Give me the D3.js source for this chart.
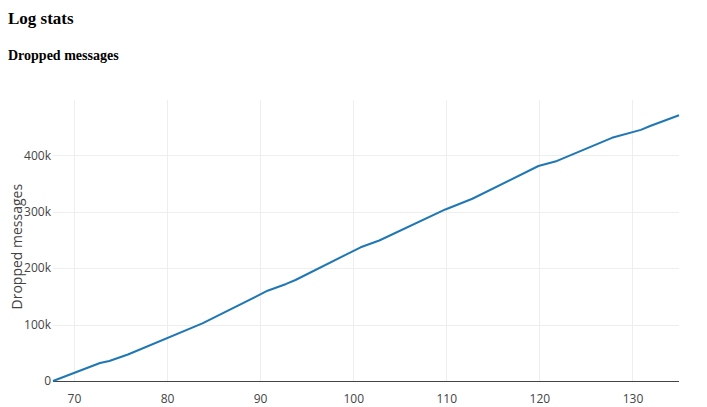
<!DOCTYPE html>
<html>
<head>
<meta charset="utf-8">
<script src="https://cdn.jsdelivr.net/npm/d3@7"></script>
<style>
  html, body { margin: 0; padding: 0; background: #fff; }
  svg { display: block; }
</style>
</head>
<body>
<svg id="chart" width="707" height="407"></svg>
<script>
// ---- data ----
const pageTitle = "Log stats";
const chartTitle = "Dropped messages";
const yAxisTitle = "Dropped messages";
const xValues = [67.75, 72.8, 73.8, 75.8, 83.8, 90.8, 92.8, 93.8, 100.8, 102.8, 109.9, 112.8, 119.9, 121.9, 127.8, 130.9, 131.9, 135];
const droppedValues = [0, 32000, 35500, 47000, 102000, 160000, 172000, 179000, 237000, 249000, 304000, 323000, 381000, 390000, 431000, 445000, 452000, 471000];
const xTicks = [70, 80, 90, 100, 110, 120, 130];
const yTicks = [0, 100000, 200000, 300000, 400000];
const yTickLabels = ["0", "100k", "200k", "300k", "400k"];

// ---- layout ----
const plot = { left: 53, right: 679, top: 100, bottom: 381 };
const svg = d3.select("#chart");
const axisFont = "'Open Sans', verdana, arial, sans-serif";

const x = d3.scaleLinear().domain([67.75, 135]).range([plot.left, plot.right]);
const y = d3.scaleLinear().domain([0, 498000]).range([plot.bottom, plot.top]);

// titles
svg.append("text").attr("x", 8).attr("y", 23.5)
  .attr("font-family", "'Liberation Serif', 'Times New Roman', serif")
  .attr("font-weight", "bold").attr("font-size", 17).attr("fill", "#000")
  .text(pageTitle);
svg.append("text").attr("x", 8).attr("y", 59.5)
  .attr("font-family", "'Liberation Serif', 'Times New Roman', serif")
  .attr("font-weight", "bold").attr("font-size", 14).attr("fill", "#000")
  .text(chartTitle);

// gridlines
const grid = svg.append("g");
grid.selectAll("line.vx").data(xTicks).join("line")
  .attr("x1", d => Math.round(x(d)) + 0.5).attr("x2", d => Math.round(x(d)) + 0.5)
  .attr("y1", plot.top).attr("y2", plot.bottom)
  .attr("stroke", "#eee").attr("stroke-width", 1);
grid.selectAll("line.hy").data(yTicks.filter(d => d !== 0)).join("line")
  .attr("x1", plot.left).attr("x2", plot.right)
  .attr("y1", d => Math.round(y(d)) + 0.5).attr("y2", d => Math.round(y(d)) + 0.5)
  .attr("stroke", "#eee").attr("stroke-width", 1);

// zero line
svg.append("line")
  .attr("x1", plot.left).attr("x2", plot.right)
  .attr("y1", Math.round(y(0)) + 0.5).attr("y2", Math.round(y(0)) + 0.5)
  .attr("stroke", "#444").attr("stroke-width", 1);

// x axis
const xAxis = d3.axisBottom(x).tickValues(xTicks).tickSize(0).tickPadding(0).tickFormat(d3.format("d"));
const gx = svg.append("g").attr("transform", `translate(0,${plot.bottom})`).call(xAxis);
gx.select(".domain").remove();
gx.selectAll("text").attr("font-family", axisFont).attr("font-size", 12).attr("fill", "#444")
  .attr("dy", null).attr("y", 22);

// y axis
const yAxis = d3.axisLeft(y).tickValues(yTicks).tickSize(0).tickPadding(2)
  .tickFormat((d, i) => yTickLabels[i]);
const gy = svg.append("g").attr("transform", `translate(${plot.left},0)`).call(yAxis);
gy.select(".domain").remove();
gy.selectAll("text").attr("font-family", axisFont).attr("font-size", 12).attr("fill", "#444");

// y axis title
svg.append("text")
  .attr("transform", "translate(21.5,246.7) rotate(-90)")
  .attr("text-anchor", "middle")
  .attr("font-family", axisFont).attr("font-size", 14).attr("fill", "#444")
  .text(yAxisTitle);

// line
const pts = xValues.map((v, i) => [v, droppedValues[i]]);
svg.append("path").datum(pts)
  .attr("fill", "none").attr("stroke", "#1f77b4").attr("stroke-width", 2)
  .attr("stroke-linejoin", "round")
  .attr("d", d3.line().x(d => x(d[0])).y(d => y(d[1])));
</script>
</body>
</html>
